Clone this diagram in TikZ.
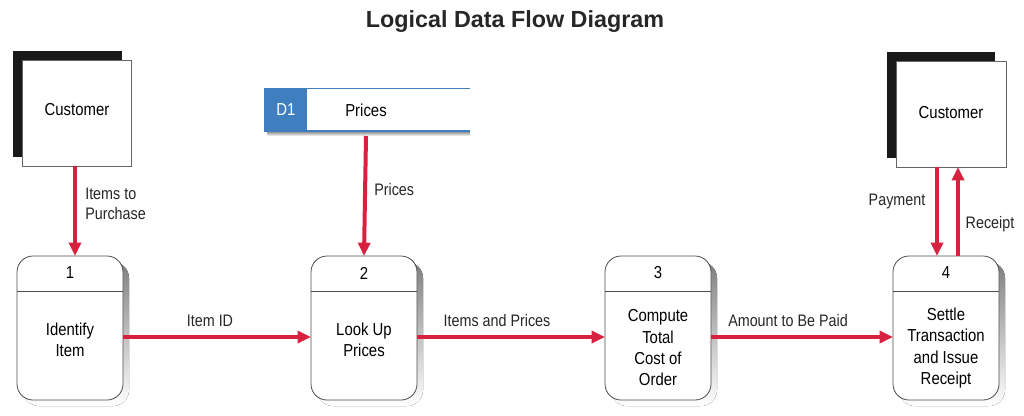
\documentclass[tikz,border=0pt]{standalone}
\usepackage{fontspec}
\setmainfont{Liberation Sans}[FakeStretch=0.86]
\newfontfamily\titlefont{Liberation Sans}
\usetikzlibrary{arrows.meta}
\definecolor{flowred}{HTML}{D8203F}
\definecolor{storeblue}{HTML}{3F7FBF}
\definecolor{shade}{HTML}{C9D6DE}
\begin{document}
\begin{tikzpicture}[x=0.75pt,y=-0.75pt,
  flow/.style={draw=flowred,line width=3pt,-{Triangle[length=10pt,width=9pt]}},
  lbl/.style={font=\fontsize{12.5}{15.5}\selectfont,text=black!85,inner sep=0pt},
  proc/.style={draw=black!70,line width=0.6pt,fill=white,rounded corners=12pt},
  txt/.style={font=\fontsize{13}{16}\selectfont,align=center,inner sep=0pt}]
\useasboundingbox (0,0) rectangle (1024,415);
\node[font=\titlefont\bfseries\fontsize{17.5}{20}\selectfont,text=black!85] (title) at (515,22) {Logical Data Flow Diagram};
% customers
\fill[black!90] (13,51) rectangle (122,157);
\draw[black!60,fill=white] (22,60) rectangle (131,166);
\node[txt] (cust1) at (77,110) {Customer};
\coordinate (c1b) at (75,166);
\fill[black!90] (887,52) rectangle (995,158);
\draw[black!60,fill=white] (896,61) rectangle (1006,167);
\node[txt] (cust2) at (951,113) {Customer};
% store
\fill[shade] (267,131) rectangle (470,136);
\fill[white] (264,88) rectangle (470,131);
\fill[storeblue] (264,88) rectangle (307,131);
\draw[storeblue,line width=0.5pt] (307,88) -- (470,88);
\draw[storeblue,line width=1.2pt] (264,131) -- (470,131);
\node[txt,text=white] (d1) at (286,110) {D1};
\node[txt] (store) at (366,110) {Prices};
\coordinate (sb) at (366,136);
% processes
\foreach \n/\x in {1/17,2/311,3/605,4/893}{
  \fill[shade,rounded corners=12pt] (\x+6,262) rectangle (\x+112,406);
  \draw[proc] (\x,256) rectangle (\x+106,400);
  \draw[black!70,line width=0.6pt] (\x,291) -- (\x+106,291);
  \node[txt] (n\n) at (\x+53,273) {\n};
  \coordinate (p\n top) at (\x+53,256);
  \coordinate (p\n l) at (\x,337);
  \coordinate (p\n r) at (\x+106,337);
}
\node[txt] (t1) at (70,340) {Identify\\Item};
\node[txt] (t2) at (364,340) {Look Up\\Prices};
\node[txt] (t3) at (658,348) {Compute\\Total\\Cost of\\Order};
\node[txt] (t4) at (946,348) {Settle\\Transaction\\and Issue\\Receipt};
% flows
\draw[flow] (c1b) -- (75,256);
\node[lbl,align=left,anchor=west] (l1) at (85,204) {Items to\\Purchase};
\draw[flow] (sb) -- (p2top);
\node[lbl,anchor=west] (l2) at (374,190) {Prices};
\draw[flow] (p1r) -- (p2l);
\node[lbl] (l3) at (210,321) {Item ID};
\draw[flow] (p2r) -- (p3l);
\node[lbl] (l4) at (497,321) {Items and Prices};
\draw[flow] (p3r) -- (p4l);
\node[lbl] (l5) at (788,321) {Amount to Be Paid};
\coordinate (pa) at (937,167);
\coordinate (pb) at (937,256);
\coordinate (ra) at (958,256);
\coordinate (rb) at (958,167);
\draw[flow] (pa) -- (pb);
\draw[flow] (ra) -- (rb);
\node[lbl] (l6) at (897,201) {Payment};
\node[lbl] (l7) at (990,224) {Receipt};
\end{tikzpicture}
\end{document}
